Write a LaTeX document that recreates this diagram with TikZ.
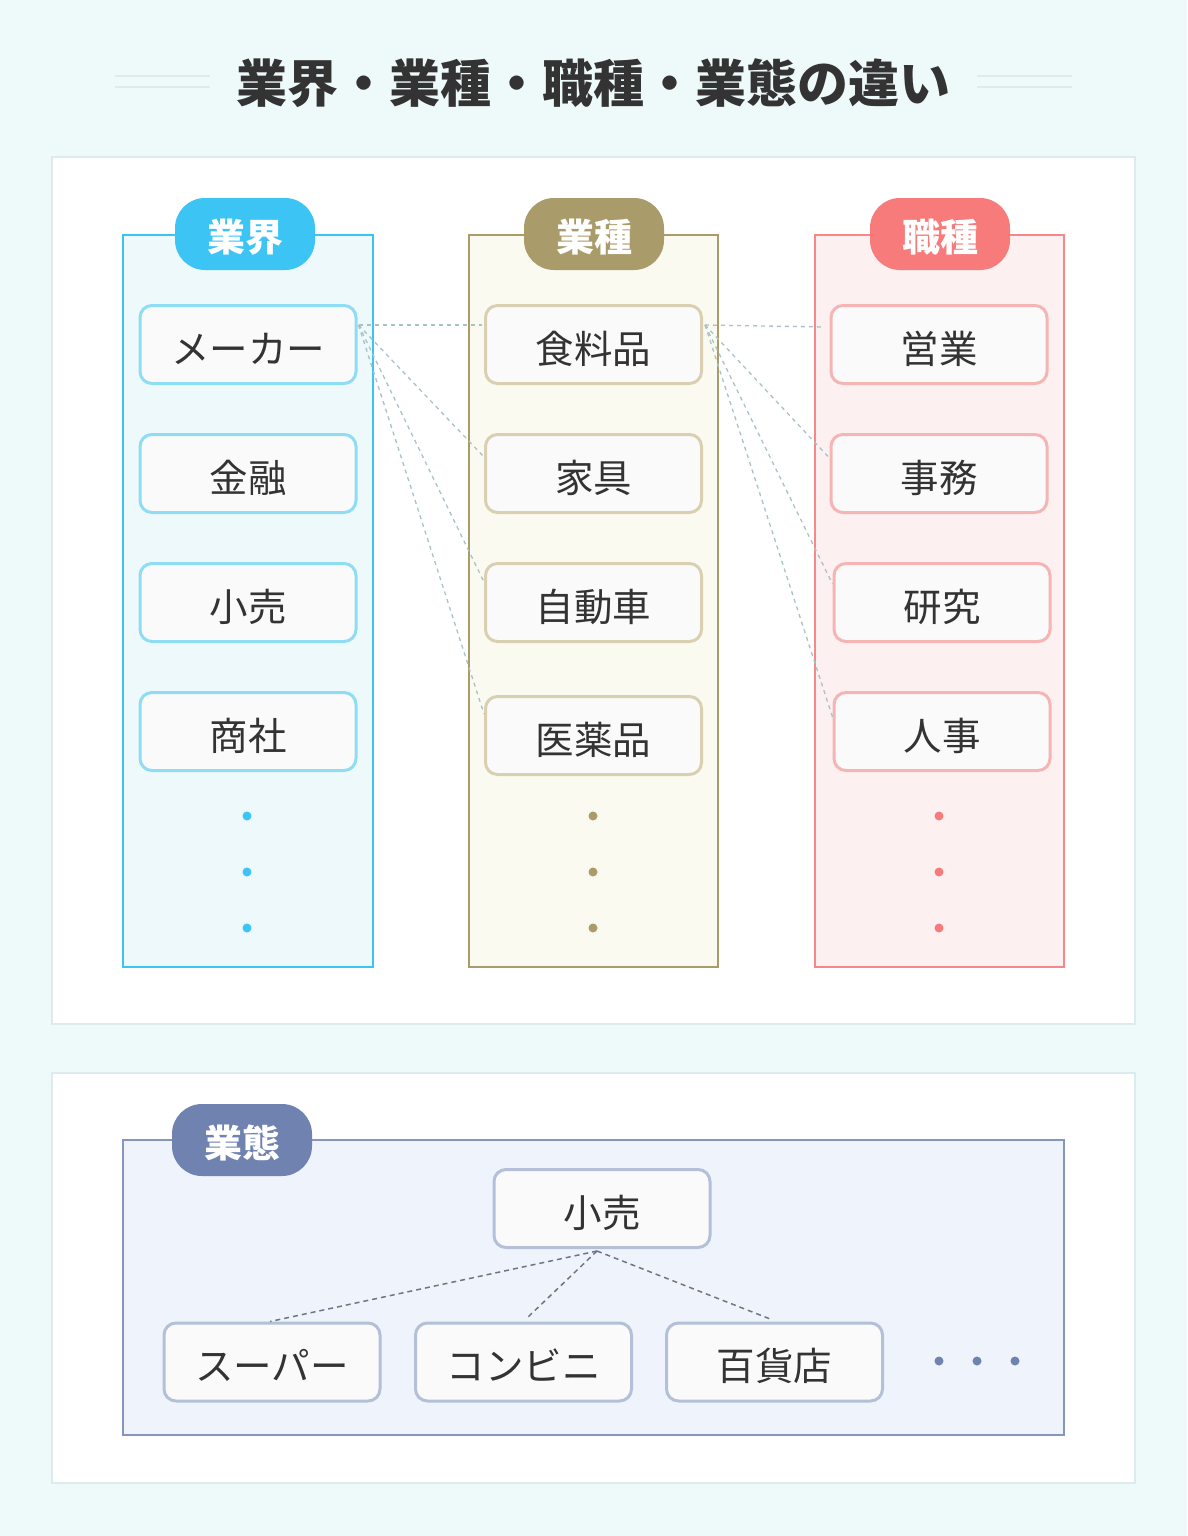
\documentclass[tikz,border=0pt]{standalone}
\usepackage{fontspec}
\setmainfont{Noto Sans CJK JP}
\usetikzlibrary{calc}
\definecolor{bgc}{HTML}{EEF9FA}
\definecolor{panelb}{HTML}{DCECEE}
\definecolor{txt}{HTML}{333333}
\definecolor{bluec}{HTML}{3CC4F5}
\definecolor{bluef}{HTML}{EEF9FC}
\definecolor{blueb}{HTML}{8EDDF5}
\definecolor{goldc}{HTML}{AA9C6A}
\definecolor{goldf}{HTML}{FBFAF0}
\definecolor{goldb}{HTML}{D8D0B0}
\definecolor{redc}{HTML}{F77B7B}
\definecolor{redf}{HTML}{FDF0F0}
\definecolor{redb}{HTML}{F5B5B5}
\definecolor{navc}{HTML}{6F82B0}
\definecolor{navf}{HTML}{EEF3FC}
\definecolor{navb}{HTML}{B3C0D8}
\definecolor{linkc}{HTML}{A9C2CA}
\definecolor{treec}{HTML}{6E7686}
\definecolor{itemf}{HTML}{FAFAFA}
\tikzset{
  panel/.style={draw=panelb, line width=2pt, fill=white},
  column/.style={line width=1.8pt},
  pill/.style={rounded corners=30pt, minimum width=140pt, minimum height=72pt, inner sep=0pt, text=white, text height=34pt, text depth=0pt, font=\fontsize{38}{42}\selectfont\bfseries},
  itembox/.style={draw, line width=3pt, fill=itemf, rounded corners=12pt, minimum width=216pt, minimum height=78pt, inner sep=0pt, text=txt, text height=37pt, text depth=0pt, font=\fontsize{38.5}{42}\selectfont},
  link/.style={draw=linkc, line width=1.3pt, dash pattern=on 4pt off 4pt},
  treelink/.style={draw=treec, line width=1.5pt, dash pattern=on 5pt off 4pt},
  dotm/.style={circle, inner sep=0pt, minimum size=9pt},
}
\begin{document}
\begin{tikzpicture}[x=1pt,y=-1pt]
\path[fill=bgc] (0,0) rectangle (1187,1536);
\useasboundingbox (0,0) rectangle (1187,1536);
% title
\node[text=txt, font=\fontsize{51}{56}\selectfont\bfseries, text height=44pt, text depth=0pt] (title) at (593,81) {業界・業種・職種・業態の違い};
\draw[panelb, line width=1.5pt] (115,76) coordinate (tl1) -- (210,76) coordinate (tl2);
\draw[panelb, line width=1.5pt] (115,87) coordinate (tl3) -- (210,87) coordinate (tl4);
\draw[panelb, line width=1.5pt] (977,76) coordinate (tr1) -- (1072,76) coordinate (tr2);
\draw[panelb, line width=1.5pt] (977,87) coordinate (tr3) -- (1072,87) coordinate (tr4);
% panels
\draw[panel] (52,157) rectangle (1135,1024);
\draw[panel] (52,1073) rectangle (1135,1483);
% columns
\draw[column, draw=bluec, fill=bluef] (123,235) rectangle (373,967);
\draw[column, draw=goldc, fill=goldf] (469,235) rectangle (718,967);
\draw[column, draw=redc!90!white, fill=redf] (815,235) rectangle (1064,967);
\node[pill, fill=bluec] (p1) at (245,234) {業界};
\node[pill, fill=goldc] (p2) at (594,234) {業種};
\node[pill, fill=redc] (p3) at (940,234) {職種};
% column 1
\node[itembox, draw=blueb] (a1) at (248,344.5) {メーカー};
\node[itembox, draw=blueb] (a2) at (248,473.5) {金融};
\node[itembox, draw=blueb] (a3) at (248,602.5) {小売};
\node[itembox, draw=blueb] (a4) at (248,731.5) {商社};
% column 2
\node[itembox, draw=goldb] (b1) at (593.5,344.5) {食料品};
\node[itembox, draw=goldb] (b2) at (593.5,473.5) {家具};
\node[itembox, draw=goldb] (b3) at (593.5,602.5) {自動車};
\node[itembox, draw=goldb] (b4) at (593.5,735.5) {医薬品};
% column 3
\node[itembox, draw=redb] (c1) at (939,344.5) {営業};
\node[itembox, draw=redb] (c2) at (939,473.5) {事務};
\node[itembox, draw=redb] (c3) at (942,602.5) {研究};
\node[itembox, draw=redb] (c4) at (942,731.5) {人事};
% dots
\foreach \y/\n in {816/1,872/2,928/3}{
  \node[dotm, fill=bluec] (da\n) at (247,\y) {};
  \node[dotm, fill=goldc] (db\n) at (593,\y) {};
  \node[dotm, fill=redc] (dc\n) at (939,\y) {};
}
% links
\coordinate (a1r) at ($(a1.north east)+(1,21)$);
\coordinate (b1r) at ($(b1.north east)+(2,21)$);
\draw[link] (a1r) -- ($(b1.north west)+(-2,21)$);
\draw[link] (a1r) -- ($(b2.north west)+(0,24)$);
\draw[link] (a1r) -- ($(b3.north west)+(0,20)$);
\draw[link] (a1r) -- ($(b4.north west)+(0,19)$);
\draw[link] (b1r) -- ($(c1.north west)+(-5,23)$);
\draw[link] (b1r) -- ($(c2.north west)+(-1,24)$);
\draw[link] (b1r) -- ($(c3.north west)+(0,22)$);
\draw[link] (b1r) -- ($(c4.north west)+(0,26)$);
% bottom section
\draw[column, line width=1.6pt, draw=navc!85!white, fill=navf] (123,1140) rectangle (1064,1435);
\node[pill, fill=navc] (p4) at (242,1140) {業態};
\node[itembox, draw=navb] (r0) at (602,1208.5) {小売};
\node[itembox, draw=navb] (r1) at (272,1362) {スーパー};
\node[itembox, draw=navb] (r2) at (523.5,1362) {コンビニ};
\node[itembox, draw=navb] (r3) at (774.5,1362) {百貨店};
\foreach \x/\n in {939/1,977/2,1015/3}{
  \node[dotm, fill=navc] (dn\n) at (\x,1361) {};
}
\coordinate (r0s) at ($(r0.south)+(-5,2)$);
\draw[treelink] (r0s) -- ($(r1.north)+(-2,0)$);
\draw[treelink] (r0s) -- ($(r2.north)+(4,-4)$);
\draw[treelink] (r0s) -- ($(r3.north)+(-3,-2)$);
\end{tikzpicture}
\end{document}
